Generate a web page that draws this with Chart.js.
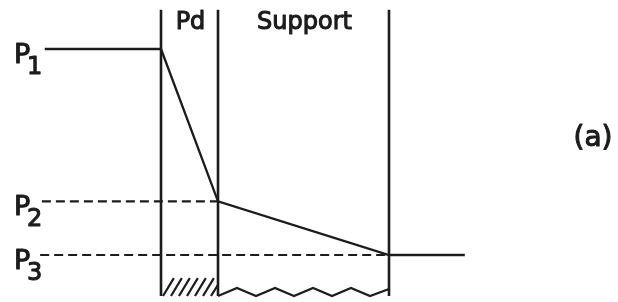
<!DOCTYPE html>
<html>
<head>
<meta charset="utf-8">
<script src="https://cdn.jsdelivr.net/npm/chart.js@4/dist/chart.umd.min.js"></script>
<style>
body { margin: 0; background: #fff; }
canvas { display: block; }
</style>
</head>
<body>
<canvas id="myChart" width="618" height="302"></canvas>
<script>
// position across membrane (Pd thickness = 1), pressure in arbitrary units
var layerNames = ['Pd', 'Support'];
var boundaries = [0, 1, 4];
var pressureNames = ['1', '2', '3'];
var pressures = [10, 2.6, 0];

// pressure profile: feed side -> Pd -> support -> permeate side
var profileX = [-2.04, 0, 1, 4, 5.33];
var profileY = [10, 10, 2.6, 0, 0];

// dashed reference levels start
var dashStart = [-2.09, -2.12];

// boundary lines extent
var wallTop = 11.9;
var wallBottom = -1.99;

// hatching under the Pd layer (bottom x -> top x)
var hatchBottomX = [0.035, 0.175, 0.315, 0.456, 0.596, 0.737, 0.877];
var hatchTopX = [0.225, 0.365, 0.505, 0.646, 0.786, 0.927, 1.0];
var hatchTopY = [-1.12, -1.12, -1.12, -1.12, -1.12, -1.12, -1.45];

// zigzag under the support
var zigX = [1, 1.333, 1.667, 2, 2.333, 2.667, 3, 3.333, 3.667, 4];
var zigY = [-1.99, -1.6, -1.99, -1.6, -1.99, -1.6, -1.99, -1.6, -1.99, -1.65];

var ink = '#1c1c1c';

function pts(xs, ys) {
	var out = [];
	for (var i = 0; i < xs.length; i++) {
		out.push({x: xs[i], y: ys[i]});
	}
	return out;
}

var datasets = [];

// layer walls
for (var i = 0; i < boundaries.length; i++) {
	datasets.push({
		data: pts([boundaries[i], boundaries[i]], [wallTop, wallBottom]),
		borderColor: ink, borderWidth: 2.6
	});
}

// dashed levels P2, P3
datasets.push({
	data: pts([dashStart[0], boundaries[1]], [pressures[1], pressures[1]]),
	borderColor: ink, borderWidth: 2.2, borderDash: [9, 5]
});
datasets.push({
	data: pts([dashStart[1], boundaries[2]], [pressures[2], pressures[2]]),
	borderColor: ink, borderWidth: 2.2, borderDash: [9, 5]
});

// profile
datasets.push({
	data: pts(profileX, profileY),
	borderColor: ink, borderWidth: 2.3
});

// hatched Pd foot, one segment per stroke split by gaps
var hatch = [];
for (i = 0; i < hatchBottomX.length; i++) {
	hatch.push({x: hatchBottomX[i], y: wallBottom});
	hatch.push({x: hatchTopX[i], y: hatchTopY[i]});
	hatch.push({x: hatchTopX[i], y: null});
}
datasets.push({
	data: hatch, borderColor: ink, borderWidth: 2.2, spanGaps: false
});

// zigzag
datasets.push({
	data: pts(zigX, zigY),
	borderColor: ink, borderWidth: 2.2
});

for (i = 0; i < datasets.length; i++) {
	datasets[i].showLine = true;
	datasets[i].pointRadius = 0;
	datasets[i].tension = 0;
	datasets[i].fill = false;
}

function ink_text(ctx, s, x, y) {
	ctx.fillText(s, x, y);
	ctx.strokeText(s, x, y);
}

var labelPlugin = {
	id: 'labels',
	afterDatasetsDraw: function(chart) {
		var ctx = chart.ctx;
		var xs = chart.scales.x;
		var ys = chart.scales.y;
		ctx.save();
		ctx.fillStyle = ink;
		ctx.strokeStyle = ink;
		ctx.lineWidth = 1.1;
		ctx.lineJoin = 'round';
		ctx.textBaseline = 'alphabetic';

		// P labels
		for (var k = 0; k < pressures.length; k++) {
			var py = ys.getPixelForValue(pressures[k]);
			ctx.font = '27px "DejaVu Sans"';
			ctx.textAlign = 'left';
			ink_text(ctx, 'P', 14, py + 14);
			ctx.font = '24px "DejaVu Sans"';
			ink_text(ctx, pressureNames[k], 27, py + 25);
		}

		// layer names
		ctx.font = '24px "DejaVu Sans"';
		ctx.textAlign = 'center';
		for (k = 0; k < layerNames.length; k++) {
			var cx = (xs.getPixelForValue(boundaries[k]) + xs.getPixelForValue(boundaries[k + 1])) / 2;
			ink_text(ctx, layerNames[k], cx + 1, 29);
		}

		ctx.font = '28px "DejaVu Sans"';
		ink_text(ctx, '(a)', 593, 146);
		ctx.restore();
	}
};

new Chart(document.getElementById('myChart').getContext('2d'), {
	type: 'scatter',
	data: { datasets: datasets },
	options: {
		responsive: false,
		animation: false,
		devicePixelRatio: 1,
		layout: { padding: 0 },
		plugins: { legend: { display: false }, tooltip: { enabled: false } },
		scales: {
			x: { type: 'linear', display: false, min: -2.8246, max: 8.0175 },
			y: { type: 'linear', display: false, min: -2.2816, max: 12.379 }
		}
	},
	plugins: [labelPlugin]
});
</script>
</body>
</html>
